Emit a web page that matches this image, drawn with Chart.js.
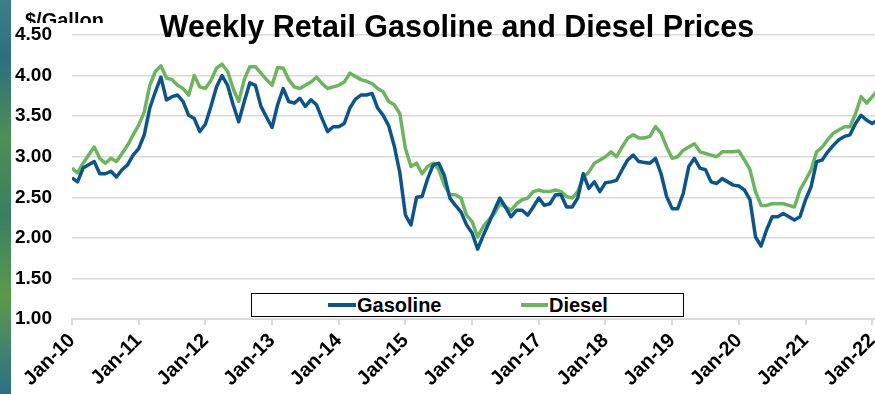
<!DOCTYPE html>
<html>
<head>
<meta charset="utf-8">
<script src="https://cdn.jsdelivr.net/npm/chart.js@4.4.1/dist/chart.umd.min.js"></script>
<style>
  body { margin: 0; background: #fff; }
  #wrap { position: relative; width: 875px; height: 394px; overflow: hidden; font-family: "Liberation Sans", Arial, sans-serif; font-weight: bold; color: #000; }
  #strip { position: absolute; left: 0; top: 0; width: 11px; height: 394px;
    background: linear-gradient(180deg, #3f7f8c 0%, #2f6e7e 15%, #4d8f55 35%, #3a7f62 55%, #5c9a4a 75%, #2d6f86 100%); }
  #title { position: absolute; left: 0; top: 8px; width: 914px; text-align: center; font-size: 30.5px; line-height: 36px; white-space: nowrap; }
  #unit { position: absolute; left: 25px; top: 8px; height: 15px; overflow: hidden; font-size: 20px; line-height: 24px; white-space: nowrap; }
  #legend { position: absolute; left: 251px; top: 293px; width: 433px; height: 24px; box-sizing: border-box; border: 1.5px solid #000; background: #fff; }
  .swatch { position: absolute; height: 4px; top: 303px; }
  .item { position: absolute; top: 295px; font-size: 20px; line-height: 20px; white-space: nowrap; }
</style>
</head>
<body>
<div id="wrap">
  <canvas id="priceChart" width="875" height="394"></canvas>
  <div id="strip"></div>
  <div id="title">Weekly Retail Gasoline and Diesel Prices</div>
  <div id="unit">$/Gallon</div>
  <div id="legend"></div>
  <div class="swatch" style="left:328px;width:28px;background:#0a5590"></div>
  <div class="item" style="left:357px">Gasoline</div>
  <div class="swatch" style="left:521px;width:27px;background:#6bb65c"></div>
  <div class="item" style="left:549px">Diesel</div>
</div>
<script>
// monthly prices, Jan 2010 onward ($/gallon)
const gasoline = [
  2.74, 2.69, 2.86, 2.90, 2.94, 2.79, 2.79, 2.82, 2.75, 2.84, 2.90, 3.02,
  3.10, 3.27, 3.60, 3.80, 3.98, 3.70, 3.74, 3.76, 3.68, 3.51, 3.47, 3.31,
  3.40, 3.62, 3.86, 4.00, 3.88, 3.64, 3.43, 3.68, 3.91, 3.88, 3.62, 3.49,
  3.36, 3.64, 3.84, 3.68, 3.66, 3.72, 3.62, 3.70, 3.64, 3.47, 3.31, 3.37,
  3.37, 3.41, 3.60, 3.71, 3.76, 3.76, 3.78, 3.60, 3.51, 3.38, 3.13, 2.80,
  2.28, 2.16, 2.50, 2.51, 2.73, 2.90, 2.92, 2.77, 2.49, 2.40, 2.32, 2.16,
  2.06, 1.86, 2.03, 2.18, 2.34, 2.49, 2.38, 2.26, 2.34, 2.34, 2.28, 2.38,
  2.49, 2.40, 2.42, 2.53, 2.53, 2.38, 2.38, 2.49, 2.79, 2.61, 2.69, 2.57,
  2.68, 2.69, 2.71, 2.84, 2.96, 3.02, 2.94, 2.93, 2.92, 2.98, 2.79, 2.51,
  2.36, 2.36, 2.55, 2.88, 2.98, 2.86, 2.84, 2.69, 2.67, 2.73, 2.69, 2.65,
  2.64, 2.59, 2.47, 2.01, 1.90, 2.10, 2.26, 2.26, 2.30, 2.26, 2.22, 2.26,
  2.47, 2.63, 2.94, 2.96, 3.06, 3.14, 3.21, 3.25, 3.27, 3.41, 3.51, 3.45,
  3.41, 3.45
];
const diesel = [
  2.86, 2.80, 2.92, 3.02, 3.12, 2.98, 2.92, 2.98, 2.94, 3.04, 3.14, 3.27,
  3.39, 3.55, 3.88, 4.05, 4.12, 3.97, 3.95, 3.88, 3.84, 3.76, 4.00, 3.86,
  3.84, 3.94, 4.09, 4.14, 4.05, 3.84, 3.68, 3.95, 4.11, 4.11, 4.03, 3.95,
  3.88, 4.10, 4.09, 3.95, 3.86, 3.84, 3.88, 3.92, 3.98, 3.90, 3.84, 3.86,
  3.88, 3.92, 4.03, 3.99, 3.95, 3.93, 3.90, 3.84, 3.80, 3.68, 3.64, 3.53,
  3.10, 2.88, 2.92, 2.79, 2.88, 2.92, 2.84, 2.65, 2.53, 2.53, 2.49, 2.28,
  2.20, 2.01, 2.14, 2.22, 2.30, 2.42, 2.38, 2.34, 2.42, 2.47, 2.49, 2.57,
  2.59, 2.57, 2.57, 2.59, 2.57, 2.51, 2.49, 2.57, 2.75, 2.81, 2.92, 2.96,
  3.00, 3.06, 3.00, 3.12, 3.23, 3.27, 3.23, 3.23, 3.25, 3.37, 3.29, 3.12,
  2.98, 3.00, 3.08, 3.12, 3.16, 3.06, 3.04, 3.02, 3.00, 3.06, 3.06, 3.06,
  3.07, 2.96, 2.84, 2.57, 2.40, 2.40, 2.42, 2.42, 2.42, 2.40, 2.38, 2.59,
  2.71, 2.84, 3.06, 3.12, 3.21, 3.29, 3.33, 3.37, 3.37, 3.53, 3.74, 3.66,
  3.74, 3.82
];
const tickLabels = ["Jan-10", "Jan-11", "Jan-12", "Jan-13", "Jan-14", "Jan-15", "Jan-16",
  "Jan-17", "Jan-18", "Jan-19", "Jan-20", "Jan-21", "Jan-22"];
const priceTicks = [1.0, 1.5, 2.0, 2.5, 3.0, 3.5, 4.0, 4.5];

const font = "'Liberation Sans', Arial, sans-serif";
const toPoints = arr => arr.map((v, i) => ({ x: i, y: v }));

const config = {
  type: 'line',
  data: {
    datasets: [
      { label: 'Gasoline', data: toPoints(gasoline), borderColor: '#0a5590', borderWidth: 3.5 },
      { label: 'Diesel', data: toPoints(diesel), borderColor: '#6bb65c', borderWidth: 3.5 }
    ]
  },
  options: {
    responsive: false,
    animation: false,
    layout: { padding: { top: 35, left: 0, right: 0, bottom: 0 } },
    elements: { point: { radius: 0 }, line: { tension: 0, borderJoinStyle: 'round' } },
    plugins: { legend: { display: false }, tooltip: { enabled: false } },
    scales: {
      x: {
        type: 'linear',
        min: 0,
        max: 144.5,
        afterBuildTicks: s => { s.ticks = tickLabels.map((t, i) => ({ value: i * 12 })); },
        afterFit: s => { s.height = 75; s.paddingLeft = 0; s.paddingRight = 0; },
        ticks: {
          autoSkip: false,
          minRotation: 45,
          maxRotation: 45,
          padding: 4,
          color: '#000',
          font: { family: font, size: 20, weight: 'bold' },
          callback: v => tickLabels[v / 12]
        },
        grid: { drawOnChartArea: false, drawTicks: true, tickLength: 6, color: '#d9d9d9', lineWidth: 2 },
        border: { display: true, color: '#d9d9d9', width: 2 }
      },
      y: {
        min: 1,
        max: 4.5,
        afterBuildTicks: s => { s.ticks = priceTicks.map(v => ({ value: v })); },
        afterFit: s => { s.width = 72; },
        ticks: {
          padding: 20,
          color: '#000',
          font: { family: font, size: 19, weight: 'bold' },
          callback: v => v.toFixed(2)
        },
        grid: { color: '#d9d9d9', lineWidth: 1.5, drawTicks: false },
        border: { display: false }
      }
    }
  }
};

const priceChart = new Chart(document.getElementById('priceChart').getContext('2d'), config);
</script>
</body>
</html>
